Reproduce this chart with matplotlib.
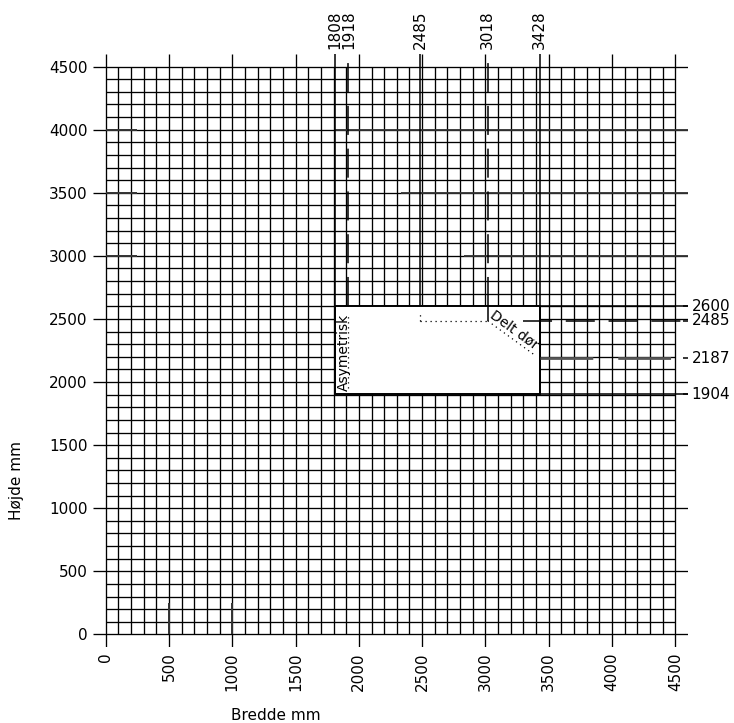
import numpy as np
import matplotlib.pyplot as plt
from matplotlib.patches import Rectangle

# grid paper, 100 mm squares
grid_min = 0
grid_max = 4500
grid_step = 100
major_step = 500
tick_labels = [0, 500, 1000, 1500, 2000, 2500, 3000, 3500, 4000, 4500]

# opening dimensions (mm)
widths = [1808, 1918, 2485, 3018, 3428]
heights = [2600, 2485, 2187, 1904]

x_left, x_split, x_mid, x_door, x_right = widths
y_top, y_door, y_low, y_bottom = heights

fs = 11

fig = plt.figure(figsize=(7.34, 7.23), dpi=100)
ax = fig.add_axes([93 / 734, 1 - 647 / 723, 595 / 734, 593 / 723])
ax.set_xlim(-100, 4600)
ax.set_ylim(-100, 4600)
for s in ax.spines.values():
    s.set_visible(False)

# grid lines: every 500 the line runs a bit past the paper as a tick
lines = np.arange(grid_min, grid_max + grid_step, grid_step)
for v in lines:
    if v % major_step == 0:
        lo, hi = -100, 4600
    else:
        lo, hi = grid_min, grid_max
    ax.vlines(v, lo, hi, color='black', lw=0.95, zorder=1)
    ax.hlines(v, lo, hi, color='black', lw=0.95, zorder=1)

# some darker strokes seen on the original sheet
for v in [3000, 3500, 4000]:
    ax.hlines(v, 0, 250, color='#333333', lw=1.4, zorder=1.5)
for v in [500, 1000]:
    ax.vlines(v, 0, 250, color='#333333', lw=1.4, zorder=1.5)
ax.hlines(4000, x_left, 4600, color='#333333', lw=1.3, zorder=1.5)
ax.hlines(3500, 2330, 4600, color='#333333', lw=1.3, zorder=1.5)
ax.hlines(3000, 2830, 4600, color='#333333', lw=1.3, zorder=1.5)

ax.set_xticks(tick_labels)
ax.set_yticks(tick_labels)
ax.set_xticklabels([str(t) for t in tick_labels], rotation=90)
ax.tick_params(axis='both', length=0, labelsize=fs)
ax.tick_params(axis='x', pad=4)
ax.tick_params(axis='y', pad=4)

# opening
ax.add_patch(Rectangle((x_left, y_bottom), x_right - x_left, y_top - y_bottom,
                       facecolor='white', edgecolor='black', lw=1.4, zorder=3))

dash = (0, (19, 9))
# vertical width lines up to the top labels
ax.vlines(x_left, y_bottom, 4600, color='black', lw=1.1, zorder=4)
ax.vlines(x_split, y_top, 4600, color='black', lw=1.1, linestyles=[dash], zorder=4)
ax.vlines(x_mid, y_top, 4600, color='black', lw=1.1, zorder=4)
ax.vlines(x_door, y_top, 4600, color='black', lw=1.1, linestyles=[dash], zorder=4)
ax.vlines(x_door, y_door, y_top, color='black', lw=1.1, zorder=4)
ax.vlines(x_right, y_bottom, 4600, color='black', lw=1.1, zorder=4)

# horizontal height lines out to the right labels
ax.hlines(y_top, x_right, 4600, color='black', lw=1.1, zorder=4)
ax.hlines(y_door, 3300, 4560, color='black', lw=1.1, linestyles=[dash], zorder=4)
ax.hlines(y_low, x_right, 4560, color='#555555', lw=2.0, linestyles=[dash], zorder=4)
ax.hlines(y_bottom, x_right, 4600, color='black', lw=1.1, zorder=4)
for h in heights:
    ax.hlines(h, 4560, 4610, color='black', lw=1.1, zorder=4)
    ax.text(4630, h, str(h), ha='left', va='center', fontsize=fs)

for w in widths:
    ax.text(w, 4640, str(w), rotation=90, ha='center', va='bottom', fontsize=fs)

# dotted guides inside the opening
dot = (0, (1, 3))
ax.vlines(x_split, y_bottom + 50, y_top - 50, color='black', lw=0.9, linestyles=[dot], zorder=5)
ax.vlines(x_mid, y_door, y_top - 40, color='black', lw=0.9, linestyles=[dot], zorder=5)
ax.hlines(y_door, x_mid, x_door, color='black', lw=0.9, linestyles=[dot], zorder=5)
ax.plot([x_door, x_right - 30], [y_door, y_low + 20], color='black', lw=0.9,
        linestyle=dot, zorder=5)

ax.text(1878, 2235, 'Asymetrisk', rotation=90, ha='center', va='center', fontsize=10, zorder=6)
ax.text(3225, 2415, 'Delt dør', rotation=-36, ha='center', va='center', fontsize=10,
        rotation_mode='anchor', zorder=6)

fig.text(276 / 734, 1 - 716 / 723, 'Bredde mm', ha='center', va='center', fontsize=fs)
fig.text(17 / 734, 1 - 480 / 723, 'Højde mm', ha='center', va='center', rotation=90, fontsize=fs)

fig.savefig('out.png', dpi=100)
